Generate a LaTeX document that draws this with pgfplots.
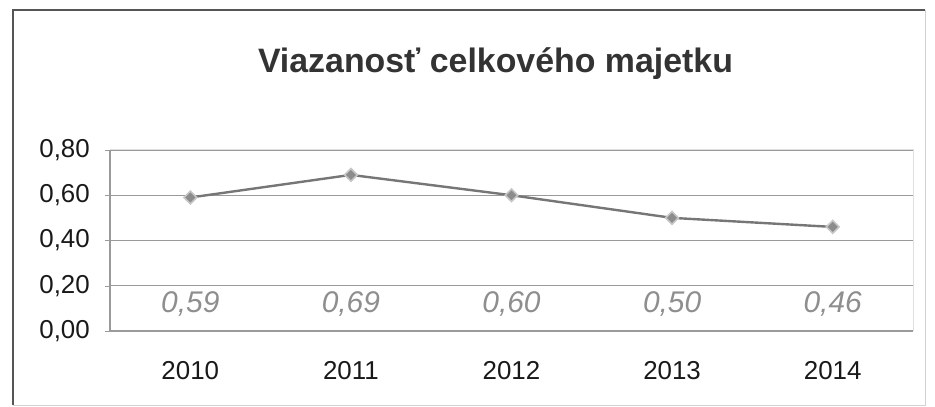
\documentclass[border=0pt]{standalone}
\usepackage{fontspec}
\setmainfont{Liberation Sans}
\usepackage{pgfplots}
\pgfplotsset{compat=1.18}

\definecolor{linegray}{HTML}{767676}
\definecolor{gridgray}{HTML}{9A9A9A}
\definecolor{labgray}{HTML}{8E8E8E}
\definecolor{framegray}{HTML}{555555}

\begin{document}
\begin{tikzpicture}
\begin{axis}[
    name=ax,
    scale only axis,
    width=803bp, height=181bp,
    xmin=-0.5, xmax=4.5,
    ymin=0, ymax=0.8,
    xtick={0,1,2,3,4},
    xticklabels={2010,2011,2012,2013,2014},
    minor xtick={-0.5,0.5,1.5,2.5,3.5,4.5},
    ytick={0,0.2,0.4,0.6,0.8},
    tick align=outside,
    major tick length=5bp,
    minor tick length=5bp,
    xtick style={draw=none},
    minor x tick style={gridgray},
    ytick style={gridgray},
    ymajorgrids=true,
    grid style={gridgray, line width=0.8bp},
    axis line style={draw=none},
    axis x line*=bottom,
    axis y line*=left,
    /pgf/number format/.cd, assume math mode=true, use comma, fixed, fixed zerofill, precision=2,
    /pgfplots/.cd,
    yticklabel style={inner sep=0pt, anchor=east, xshift=-15bp, text=black!90, font=\fontsize{26}{30}\selectfont},
    xticklabel style={inner sep=0pt, anchor=north, yshift=-25bp, text=black!90, font=\fontsize{26}{30}\selectfont},
    title={Viazanosť celkového majetku},
    title style={font=\fontsize{34}{40}\selectfont\bfseries, text=black!80, anchor=base, at={(0.5,1)}, xshift=-16bp, yshift=72bp},
    clip=false,
]
\addplot[linegray, line width=2.4bp, mark=square*, mark size=4.5bp,
    mark options={rotate=45, fill=gray!90, draw=gray!45, line width=1.6bp}]
coordinates {(0,0.59) (1,0.69) (2,0.60) (3,0.50) (4,0.46)};
\addplot[draw=none, mark=none, nodes near coords, point meta=explicit,
    nodes near coords style={anchor=center, text=labgray, font=\fontsize{30}{34}\selectfont\itshape}]
coordinates {(0,0.12) [0.59] (1,0.12) [0.69] (2,0.12) [0.60] (3,0.12) [0.50] (4,0.12) [0.46]};
\end{axis}
% plot area frame and axis lines
\draw[gray!25, line width=1bp] (ax.north west) -- (ax.north east) -- (ax.south east);
\draw[gridgray, line width=1.2bp] (ax.north west) -- (ax.south west) -- (ax.south east);
% outer chart frame
\draw[gray!35, line width=1bp] ([xshift=-97bp,yshift=-74bp]ax.south west) -- ([xshift=12bp,yshift=-74bp]ax.south east) -- ([xshift=12bp,yshift=140bp]ax.north east);
\draw[framegray, line width=2bp] ([xshift=-97bp,yshift=-74bp]ax.south west) -- ([xshift=-97bp,yshift=140bp]ax.north west) -- ([xshift=12bp,yshift=140bp]ax.north east);
\pgfresetboundingbox
\path ([xshift=-110bp,yshift=-76bp]ax.south west) rectangle ([xshift=22bp,yshift=150bp]ax.north east);
\end{tikzpicture}
\end{document}
